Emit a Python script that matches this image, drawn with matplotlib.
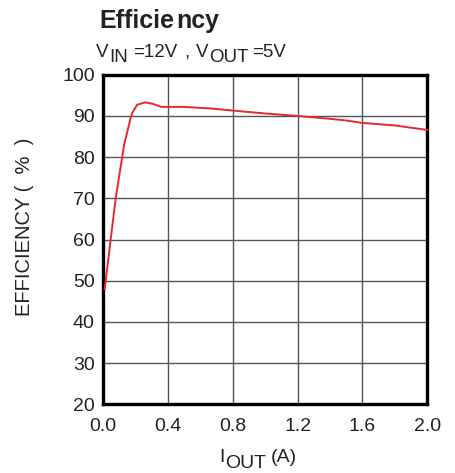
import matplotlib
matplotlib.use("Agg")
import matplotlib.pyplot as plt

plt.rcParams["font.family"] = ["Liberation Sans", "DejaVu Sans"]

# efficiency curve
iout = [0.01, 0.047, 0.078, 0.13, 0.17, 0.18, 0.21, 0.26, 0.31, 0.36, 0.5,
        0.67, 0.8, 1.0, 1.2, 1.4, 1.5, 1.6, 1.8, 2.0]
eff = [48.0, 60.0, 70.0, 83.0, 89.5, 90.7, 92.7, 93.3, 92.9, 92.2, 92.2,
       91.8, 91.3, 90.6, 90.0, 89.3, 88.9, 88.3, 87.7, 86.6]

xticks = [0.0, 0.4, 0.8, 1.2, 1.6, 2.0]
yticks = [20, 30, 40, 50, 60, 70, 80, 90, 100]

W, H = 456, 473
fig = plt.figure(figsize=(W / 100, H / 100), dpi=100)
ax = fig.add_axes([0.226, 0.145, 0.711, 0.697])

ax.plot(iout, eff, color="#e8282b", lw=1.4, zorder=5, clip_on=False)

ax.set_xlim(0, 2.0)
ax.set_ylim(20, 100)
ax.set_xticks(xticks)
ax.set_xticklabels(["%.1f" % t for t in xticks])
ax.set_yticks(yticks)
ax.tick_params(length=0, labelsize=14, colors="#222222")
ax.tick_params(axis="x", pad=10)
ax.tick_params(axis="y", pad=6)
ax.grid(True, color="#555555", lw=1.0)
for s in ax.spines.values():
    s.set_linewidth(2.4)
    s.set_zorder(4)

renderer = fig.canvas.get_renderer()


def text_row(x, pieces, size, **kw):
    # pieces: (string, baseline y in px from top, gap before in px)
    for s, y, gap in pieces:
        x += gap
        t = fig.text(x / W, 1 - y / H, s, fontsize=size, color="#222222",
                     ha="left", va="baseline", **kw)
        x = t.get_window_extent(renderer).x1


# y label
fig.text(25 / W, 1 - 227 / H, "EFFICIENCY (  %  )", rotation=90,
         fontsize=14.5, ha="center", va="center", color="#222222")

# x label: I_OUT (A)
text_row(219, [("I", 462, 0), ("OUT", 468, 1), ("(A)", 462, 4)], 14)

# title and conditions
text_row(99, [("Efficie", 28, 0), ("ncy", 28, 2)], 18, fontweight="bold")
text_row(96, [("V", 57, 0), ("IN", 62, 1), ("=12V", 57, 5), (",", 57, 7),
              ("V", 57, 6), ("OUT", 62, 1), ("=5V", 57, 4)], 13.5)

fig.savefig("out.png", dpi=100)
